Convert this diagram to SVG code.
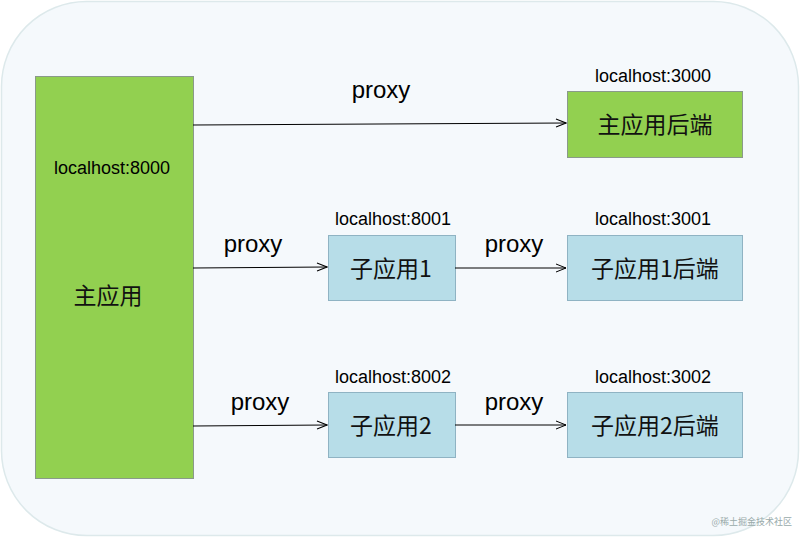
<svg xmlns="http://www.w3.org/2000/svg" width="800" height="537" viewBox="0 0 800 537">
<defs>
<marker id="arr" markerWidth="12" markerHeight="10" refX="11" refY="5" orient="auto" markerUnits="userSpaceOnUse">
<path d="M1,1 L11,5 L1,9" fill="none" stroke="#000" stroke-width="1"/>
</marker>
</defs>
<style>
.green{fill:#92d050;stroke:#8a9a8a;stroke-width:1}
.blue{fill:#b7dde8;stroke:#8fb3c3;stroke-width:1}
.lbl{font-family:"Liberation Sans",Arial,sans-serif;font-size:18px;fill:#000;text-anchor:middle}
.px{font-family:"Liberation Sans",Arial,sans-serif;font-size:24px;fill:#000;text-anchor:middle}
.cn{font-family:"Noto Sans CJK SC","Liberation Sans",sans-serif;font-size:23px;fill:#111;text-anchor:middle}
.conn{stroke:#000;stroke-width:1;fill:none;marker-end:url(#arr)}
</style>
<rect x="1.5" y="1.5" width="797" height="534" rx="85" ry="85" fill="#f5f9fc" stroke="#dde9eb" stroke-width="1.5"/>
<g id="main">
<rect class="green" x="35.500" y="76.500" width="158" height="402"/>
<text class="lbl" x="112" y="174">localhost:8000</text>
<text class="cn" x="108" y="304">主应用</text>
</g>
<g id="main-backend">
<text class="lbl" x="653" y="82">localhost:3000</text>
<rect class="green" x="567.500" y="91.500" width="175" height="66"/>
<text class="cn" x="655" y="133">主应用后端</text>
</g>
<g id="sub1">
<text class="lbl" x="393" y="225">localhost:8001</text>
<rect class="blue" x="328.500" y="235.500" width="127" height="65"/>
<text class="cn" x="391" y="277">子应用1</text>
</g>
<g id="sub1-backend">
<text class="lbl" x="653" y="225">localhost:3001</text>
<rect class="blue" x="567.500" y="235.500" width="175" height="65"/>
<text class="cn" x="655" y="277">子应用1后端</text>
</g>
<g id="sub2">
<text class="lbl" x="393" y="383">localhost:8002</text>
<rect class="blue" x="328.500" y="392.500" width="127" height="65"/>
<text class="cn" x="391" y="434">子应用2</text>
</g>
<g id="sub2-backend">
<text class="lbl" x="653" y="383">localhost:3002</text>
<rect class="blue" x="567.500" y="392.500" width="175" height="65"/>
<text class="cn" x="655" y="434">子应用2后端</text>
</g>
<g id="connectors">
<line class="conn" x1="193" y1="125" x2="566" y2="123"/>
<line class="conn" x1="193" y1="268" x2="327" y2="267"/>
<line class="conn" x1="455" y1="268" x2="566" y2="268"/>
<line class="conn" x1="193" y1="426" x2="327" y2="425"/>
<line class="conn" x1="455" y1="425" x2="566" y2="425"/>
<text class="px" x="381" y="98">proxy</text>
<text class="px" x="253" y="252">proxy</text>
<text class="px" x="514" y="252">proxy</text>
<text class="px" x="260" y="410">proxy</text>
<text class="px" x="514" y="410">proxy</text>
</g>
<text x="792" y="525" font-family="Noto Sans CJK SC,sans-serif" font-size="9" fill="#9aa" text-anchor="end">@稀土掘金技术社区</text>
</svg>
